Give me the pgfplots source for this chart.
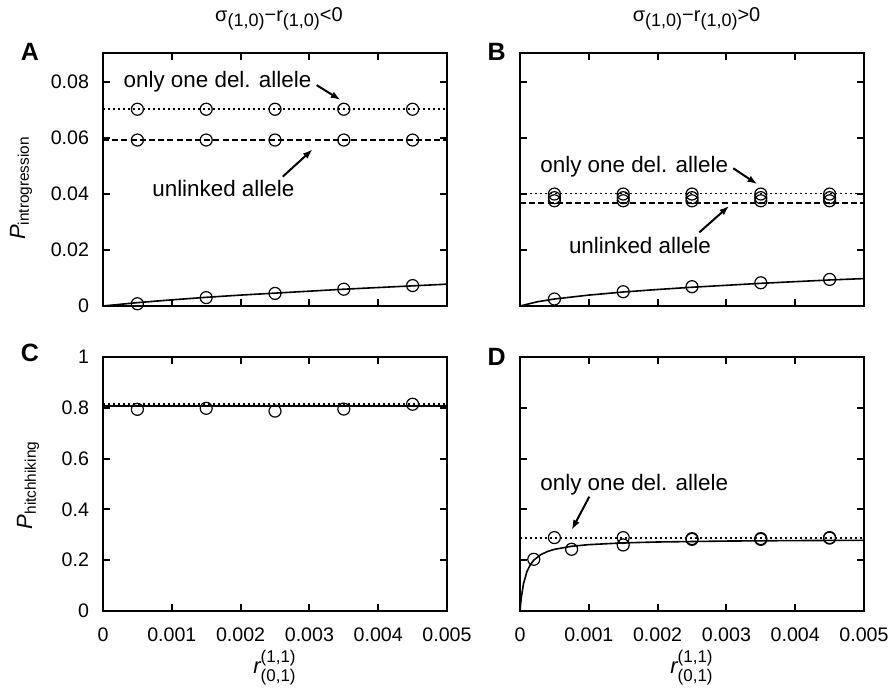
\documentclass[border=0pt]{standalone}
\usepackage{fontspec}
\setmainfont{Liberation Sans}
\usepackage{pgfplots}
\pgfplotsset{compat=1.18}
\usetikzlibrary{arrows.meta}

\tikzset{
  ann/.style={font=\fontsize{11.2}{13}\selectfont},
  arr/.style={-{Latex[length=5pt,width=3.5pt]}, line width=1pt},
}
\newcommand{\sbs}[1]{\raisebox{-2.2pt}{\fontsize{9}{10}\selectfont #1}}
\pgfplotsset{
  panel/.style={
    scale only axis, width=172pt, anchor=south west,
    xmin=0, xmax=0.005,
    tick align=inside, major tick length=3.5pt,
    axis line style={line width=1.2pt},
    every tick/.style={line width=1pt, black},
    xtick={0,0.001,0.002,0.003,0.004,0.005},
    scaled x ticks=false, scaled y ticks=false,
    ticklabel style={font=\fontsize{9.8}{11}\selectfont},
    /pgf/number format/assume math mode=true,
    yticklabel style={xshift=-3.5pt},
    xticklabel style={yshift=-5pt},
  },
  topp/.style={panel, height=126.5pt, ymin=0, ymax=0.0904,
    ytick={0,0.02,0.04,0.06,0.08}, xticklabels={}},
  botp/.style={panel, height=127pt, ymin=0, ymax=1,
    ytick={0,0.2,0.4,0.6,0.8,1},
    xticklabels={0,0.001,0.002,0.003,0.004,0.005}},
  circ/.style={only marks, mark=o, mark size=3pt, black, mark options={line width=0.6pt}},
  dotl/.style={black, line width=0.9pt, dash pattern=on 0.9pt off 1.6pt},
  dashl/.style={black, line width=0.8pt, dash pattern=on 3pt off 1.6pt},
  soll/.style={black, line width=0.8pt},
}

\begin{document}
\begin{tikzpicture}
\path[use as bounding box] (0,0) rectangle (446.5pt,343.5pt);

% ---------- A ----------
\begin{axis}[topp, at={(51.5pt,190.5pt)},
  yticklabels={0,0.02,0.04,0.06,0.08}]
\addplot[dotl] coordinates {(0,0.0703) (0.005,0.0703)};
\addplot[dashl] coordinates {(0,0.0593) (0.005,0.0593)};
\addplot[soll] coordinates {(0,0) (0.0005,0.0012) (0.001,0.0022) (0.0015,0.0031) (0.002,0.0039) (0.0025,0.0046) (0.003,0.0053) (0.0035,0.0060) (0.004,0.0066) (0.0045,0.0072) (0.005,0.0078)};
\addplot[circ] coordinates {(0.0005,0.0703) (0.0015,0.0703) (0.0025,0.0703) (0.0035,0.0703) (0.0045,0.0703)};
\addplot[circ] coordinates {(0.0005,0.0593) (0.0015,0.0593) (0.0025,0.0593) (0.0035,0.0593) (0.0045,0.0593)};
\addplot[circ] coordinates {(0.0005,0.0008) (0.0015,0.0030) (0.0025,0.0045) (0.0035,0.0060) (0.0045,0.0073)};
\node[ann] at (axis cs:0.001664,0.0803) {only one del. allele};
\draw[arr] (axis cs:0.003106,0.0789) -- (axis cs:0.003455,0.0736);
\node[ann] at (axis cs:0.001749,0.0420) {unlinked allele};
\draw[arr] (axis cs:0.002612,0.0462) -- (axis cs:0.003048,0.0560);
\end{axis}

% ---------- B ----------
\begin{axis}[topp, at={(260pt,190.5pt)}, yticklabels={}]
\addplot[dotl] coordinates {(0,0.0402) (0.005,0.0402)};
\addplot[dashl] coordinates {(0,0.0369) (0.005,0.0369)};
\addplot[soll] coordinates {(0,0) (0.00025,0.0015) (0.0005,0.0025) (0.001,0.0039) (0.0015,0.0050) (0.002,0.0059) (0.0025,0.0067) (0.003,0.0074) (0.0035,0.0081) (0.004,0.0087) (0.0045,0.0093) (0.005,0.0098)};
\addplot[circ] coordinates {(0.0005,0.0400) (0.0015,0.0400) (0.0025,0.0400) (0.0035,0.0400) (0.0045,0.0400)};
\addplot[circ] coordinates {(0.0005,0.0387) (0.0015,0.0387) (0.0025,0.0387) (0.0035,0.0387) (0.0045,0.0387)};
\addplot[circ] coordinates {(0.0005,0.0376) (0.0015,0.0376) (0.0025,0.0376) (0.0035,0.0376) (0.0045,0.0376)};
\addplot[circ] coordinates {(0.0005,0.0025) (0.0015,0.0051) (0.0025,0.0069) (0.0035,0.0083) (0.0045,0.0095)};
\node[ann] at (axis cs:0.00166,0.0497) {only one del. allele};
\draw[arr] (axis cs:0.0031,0.0492) -- (axis cs:0.00345,0.0435);
\node[ann] at (axis cs:0.001744,0.0215) {unlinked allele};
\draw[arr] (axis cs:0.002606,0.0263) -- (axis cs:0.003042,0.0358);
\end{axis}

% ---------- C ----------
\begin{axis}[botp, at={(51.5pt,38pt)},
  yticklabels={0,0.2,0.4,0.6,0.8,1}]
\addplot[dotl] coordinates {(0,0.814) (0.005,0.814)};
\addplot[soll] coordinates {(0,0.808) (0.005,0.808)};
\addplot[circ] coordinates {(0.0005,0.794) (0.0015,0.798) (0.0025,0.787) (0.0035,0.795) (0.0045,0.814)};
\end{axis}

% ---------- D ----------
\begin{axis}[botp, at={(260pt,38pt)}, yticklabels={}]
\addplot[dotl] coordinates {(0,0.286) (0.005,0.286)};
\addplot[soll] coordinates {(0,0) (0.00001,0.0305) (0.00002,0.055) (0.00005,0.1065) (0.0001,0.1547) (0.00015,0.1823) (0.0002,0.2) (0.0003,0.2217) (0.0004,0.2344) (0.0005,0.2428) (0.00075,0.2548) (0.001,0.2613) (0.0015,0.2682) (0.002,0.2717) (0.003,0.2754) (0.004,0.2773) (0.005,0.2784)};
\addplot[circ] coordinates {(0.0002,0.2035) (0.0005,0.289) (0.00075,0.243) (0.0015,0.289) (0.0015,0.260) (0.0025,0.285) (0.0025,0.282) (0.0035,0.285) (0.0035,0.282) (0.0045,0.289) (0.0045,0.287)};
\node[ann] at (axis cs:0.00166,0.496) {only one del. allele};
\draw[arr] (axis cs:0.001007,0.45) -- (axis cs:0.000751,0.319);
\end{axis}

% ---------- titles, letters, labels ----------
\node[font=\fontsize{10}{12}\selectfont] at (139.5pt,334pt) {σ\sbs{(1,0)}−r\sbs{(1,0)}<0};
\node[font=\fontsize{10}{12}\selectfont] at (348.3pt,334pt) {σ\sbs{(1,0)}−r\sbs{(1,0)}>0};
\node[font=\fontsize{12.5}{14}\selectfont\bfseries] at (15pt,317.5pt) {A};
\node[font=\fontsize{12.5}{14}\selectfont\bfseries] at (248.3pt,317.5pt) {B};
\node[font=\fontsize{12.5}{14}\selectfont\bfseries] at (15pt,167pt) {C};
\node[font=\fontsize{12.5}{14}\selectfont\bfseries] at (248.3pt,165pt) {D};
\node[rotate=90, font=\fontsize{11}{13}\selectfont] at (10.5pt,249.5pt) {\itshape P\textsubscript{\upshape introgression}};
\node[rotate=90, font=\fontsize{11}{13}\selectfont] at (14pt,101pt) {\itshape P\textsubscript{\upshape hitchhiking}};
\node[font=\fontsize{11}{13}\selectfont] at (137.5pt,9.5pt) {$\hbox{\itshape r}^{\hbox{\fontsize{8.5}{9}\selectfont(1,1)}}_{\hbox{\fontsize{8.5}{9}\selectfont(0,1)}}$};
\node[font=\fontsize{11}{13}\selectfont] at (346pt,9.5pt) {$\hbox{\itshape r}^{\hbox{\fontsize{8.5}{9}\selectfont(1,1)}}_{\hbox{\fontsize{8.5}{9}\selectfont(0,1)}}$};
\end{tikzpicture}
\end{document}
